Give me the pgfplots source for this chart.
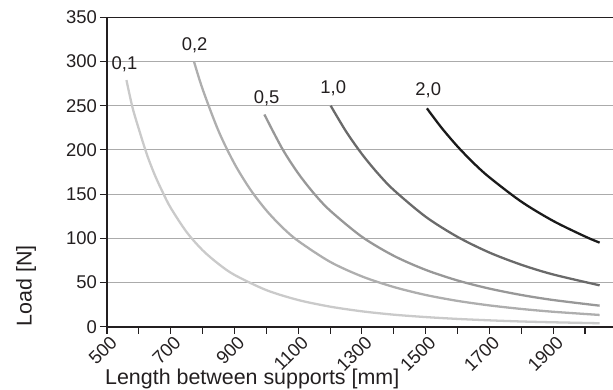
\documentclass[border=0pt]{standalone}
\usepackage{pgfplots}
\pgfplotsset{compat=1.18}
\usepackage{fontspec}
\setmainfont{Liberation Sans}
\definecolor{txt}{HTML}{231F20}
\definecolor{cA}{HTML}{CACACA}
\definecolor{cB}{HTML}{AEAEAE}
\definecolor{cC}{HTML}{989898}
\definecolor{cD}{HTML}{6A6A6A}
\definecolor{cE}{HTML}{1A1A1A}
\begin{document}
\begin{tikzpicture}
\useasboundingbox (0,0) rectangle (613bp,390bp);
\begin{axis}[
  at={(107bp,63.3bp)}, anchor=south west,
  scale only axis, width=506bp, height=309.4bp,
  xmin=500, xmax=2088, ymin=0, ymax=350,
  clip=false,
  axis line style={draw=none},
  xtick={500,700,...,1900},
  minor xtick={600,800,...,2000},
  ytick={0,50,...,350},
  xtick pos=bottom, ytick pos=left,
  tick align=outside,
  major tick length=7bp, minor tick length=7bp,
  every tick/.style={txt, line width=1.1pt},
  every minor tick/.style={txt, line width=1.1pt},
  ymajorgrids,
  major grid style={color=black!33, line width=0.8pt},
  /pgf/number format/1000 sep={},
  /pgf/number format/assume math mode=true,
  tick label style={font=\fontsize{18.5}{21}\selectfont, text=txt},
  xticklabel style={rotate=45, anchor=north east, inner sep=1pt, xshift=2bp, yshift=-1bp},
  yticklabel style={inner sep=2pt, xshift=-1bp},
  xlabel={Length between supports [mm]},
  ylabel={Load [N]},
  label style={font=\fontsize{21.5}{24}\selectfont, text=txt},
  xlabel style={at={(axis description cs:-0.004,-0.186)}, anchor=base west, inner sep=0pt},
  ylabel style={at={(axis description cs:-0.1488,0)}, anchor=base west, rotate=0, inner sep=0pt},
  every axis plot/.append style={line width=2.3pt, no markers, smooth},
]
\addplot[cA] coordinates {(561,279) (580,248) (600,223.5) (625,195) (650,171.6) (675,152) (700,134.4) (750,107.0) (800,86.5) (850,71) (900,58.6) (1000,41.4) (1100,30.2) (1200,22.7) (1300,17.4) (1400,13.6) (1500,10.9) (1600,8.8) (1700,7.2) (1800,5.9) (1900,5.0) (2046,3.9)};
\addplot[cB] coordinates {(773,300) (800,268.8) (850,221.4) (900,184.4) (950,155.1) (1000,131.6) (1050,112.5) (1100,97.0) (1200,73.4) (1300,56.9) (1400,44.9) (1500,35.9) (1600,29.2) (1700,24.1) (1800,20.1) (1900,16.9) (2046,13.3)};
\addplot[cC] coordinates {(994,240) (1050,201.4) (1100,173.5) (1150,150.5) (1200,131.4) (1300,101.7) (1400,80.2) (1500,64.3) (1600,52.3) (1700,43.1) (1800,35.9) (1900,30.2) (2046,23.8)};
\addplot[cD] coordinates {(1202,250) (1250,221) (1300,195.3) (1350,173.4) (1400,154.6) (1500,124.4) (1600,101.6) (1700,83.9) (1800,70.1) (1900,59.1) (2046,46.8)};
\addplot[cE] coordinates {(1504,247) (1550,225) (1600,203.9) (1650,185.3) (1700,169) (1800,141.5) (1900,119.7) (2000,102.1) (2046,95.1)};
\draw[txt, line width=1.2pt] (rel axis cs:0,1) -- (rel axis cs:1,1);
\draw[txt, line width=2pt] (rel axis cs:0,1) -- (rel axis cs:0,0) -- (rel axis cs:1,0);
\begin{scope}[every node/.style={font=\fontsize{18.5}{21}\selectfont, text=txt}]
\node at (axis cs:555,297) {0,1};
\node at (axis cs:775,318.7) {0,2};
\node at (axis cs:1001,258.4) {0,5};
\node at (axis cs:1210,269.7) {1,0};
\node at (axis cs:1508,267.4) {2,0};
\end{scope}
\end{axis}
\end{tikzpicture}
\end{document}
